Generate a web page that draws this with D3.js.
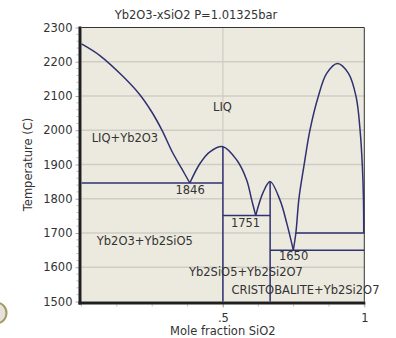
<!DOCTYPE html>
<html><head><meta charset="utf-8">
<script src="https://d3js.org/d3.v7.min.js"></script>
<style>
html,body{margin:0;padding:0;background:#fff;}
svg{display:block;}
text{font-family:"DejaVu Sans",Verdana,sans-serif;fill:#333;}
</style></head>
<body>
<svg id="chart" width="396" height="338"></svg>
<script>
// ---- data ----
const title = "Yb2O3-xSiO2 P=1.01325bar";
const xLabel = "Mole fraction SiO2";
const yLabel = "Temperature (C)";
const yTicks = [1500,1600,1700,1800,1900,2000,2100,2200,2300];
const xTickVals = [0.5, 1];
const xTickLabels = [".5", "1"];
// liquidus branches [x, T]
const liqYb2O3 = [[0,2252],[0.065,2218],[0.148,2156],[0.207,2103],[0.248,2054],[0.284,2001],[0.322,1935],[0.355,1887],[0.383,1846]];
const liqYb2SiO5 = [[0.383,1846],[0.419,1903],[0.454,1937],[0.5,1952],[0.549,1913],[0.584,1855],[0.602,1796],[0.616,1751]];
const liqYb2Si2O7 = [[0.616,1751],[0.643,1820],[0.667,1850],[0.702,1796],[0.726,1728],[0.749,1650]];
const liqGap = [[0.749,1650],[0.758,1700],[0.769,1801],[0.787,1898],[0.808,2001],[0.837,2098],[0.867,2166],[0.905,2195],[0.944,2166],[0.971,2098],[0.985,2001],[0.993,1898],[0.997,1801],[0.998,1700]];
// invariant lines: [x1, x2, T]
const horizLines = [[0,0.5,1846],[0.5,0.667,1751],[0.667,1,1650],[0.758,1,1700]];
// compound lines: [x, Ttop]
const vertLines = [[0.5,1952],[0.667,1850]];
// labels: [text, x, T, anchor]
const regionLabels = [
  ["LIQ", 0.465, 2065, "start"],
  ["LIQ+Yb2O3", 0.036, 1975, "start"],
  ["1846", 0.384, 1825, "middle"],
  ["Yb2O3+Yb2SiO5", 0.054, 1676, "start"],
  ["1751", 0.58, 1727, "middle"],
  ["1650", 0.75, 1630, "middle"],
  ["Yb2SiO5+Yb2Si2O7", 0.38, 1585, "start"],
  ["CRISTOBALITE+Yb2Si2O7", 0.53, 1533, "start"]
];

// ---- layout ----
const svg = d3.select("#chart");
const L = 81.5, R = 364.3, T0 = 27.5, B = 301.5;
const x = d3.scaleLinear().domain([0,1]).range([L,R]);
const y = d3.scaleLinear().domain([1500,2300]).range([B,T0]);
const ink = "#2f3170";

// decorative circle
svg.append("circle").attr("cx",-4).attr("cy",313).attr("r",10.5)
  .attr("fill","#e6e2d8").attr("stroke","#a39a68").attr("stroke-width",2);

// plot background
svg.append("rect").attr("x",L).attr("y",T0).attr("width",R-L).attr("height",B-T0)
  .attr("fill","#eceadf");

// grid
svg.append("g").selectAll("line").data(yTicks.slice(1,-1)).join("line")
  .attr("x1",L).attr("x2",R).attr("y1",d=>y(d)).attr("y2",d=>y(d))
  .attr("stroke","#cfcdc6").attr("stroke-width",1.3);
svg.append("line").attr("x1",x(0.5)).attr("x2",x(0.5)).attr("y1",T0).attr("y2",B)
  .attr("stroke","#cfcdc6").attr("stroke-width",1.3);

// top/right border
svg.append("path").attr("d",`M${L},${T0}H${R}V${B}`).attr("fill","none")
  .attr("stroke","#333").attr("stroke-width",1);

// y axis
const yAxis = d3.axisLeft(y).tickValues(yTicks).tickFormat(d3.format("d")).tickSize(4).tickPadding(3);
const gy = svg.append("g").attr("transform",`translate(${L-2},0)`).call(yAxis);
gy.select(".domain").remove();
gy.selectAll(".tick line").attr("stroke","#aaa");
gy.selectAll(".tick text").attr("font-size","11.5px").attr("fill","#333")
  .attr("font-family","DejaVu Sans, sans-serif");
const yMinor = d3.range(1500,2300,20).filter(v=>v%100!==0);
svg.append("g").selectAll("line").data(yMinor).join("line")
  .attr("x1",L-5).attr("x2",L-3).attr("y1",d=>y(d)).attr("y2",d=>y(d))
  .attr("stroke","#bbb");

// x axis
const xAxis = d3.axisBottom(x).tickValues(xTickVals).tickFormat((d,i)=>xTickLabels[i]).tickSize(4).tickPadding(6);
const gx = svg.append("g").attr("transform",`translate(0,${B+2})`).call(xAxis);
gx.select(".domain").remove();
gx.selectAll(".tick line").attr("stroke","#aaa");
gx.selectAll(".tick text").attr("font-size","11.5px").attr("fill","#333")
  .attr("font-family","DejaVu Sans, sans-serif");
const xMinor = d3.range(0,1.001,0.125);
svg.append("g").selectAll("line").data(xMinor).join("line")
  .attr("x1",d=>x(d)).attr("x2",d=>x(d)).attr("y1",B+3).attr("y2",B+5)
  .attr("stroke","#bbb");

// thick axis lines
svg.append("rect").attr("x",L-3).attr("y",T0-1).attr("width",3).attr("height",B-T0+4).attr("fill","#1f1f1f");
svg.append("rect").attr("x",L-3).attr("y",B).attr("width",R-L+4).attr("height",3).attr("fill","#1f1f1f");

// phase boundaries
const line = d3.line().x(d=>x(d[0])).y(d=>y(d[1])).curve(d3.curveCatmullRom.alpha(0.5));
const g = svg.append("g").attr("fill","none").attr("stroke",ink).attr("stroke-width",1.5);
[liqYb2O3, liqYb2SiO5, liqYb2Si2O7, liqGap].forEach(s=>g.append("path").attr("d",line(s)));
horizLines.forEach(h=>g.append("line").attr("x1",x(h[0])).attr("x2",x(h[1])).attr("y1",y(h[2])).attr("y2",y(h[2])));
vertLines.forEach(v=>g.append("line").attr("x1",x(v[0])).attr("x2",x(v[0])).attr("y1",y(v[1])).attr("y2",B));

// labels
svg.append("g").selectAll("text").data(regionLabels).join("text")
  .attr("x",d=>x(d[1])).attr("y",d=>y(d[2])).attr("text-anchor",d=>d[3])
  .attr("dominant-baseline","middle").attr("font-size","11.5px").text(d=>d[0]);

// titles
svg.append("text").attr("x",196).attr("y",15).attr("text-anchor","middle")
  .attr("dominant-baseline","middle").attr("font-size","11.5px").text(title);
svg.append("text").attr("x",x(0.5)).attr("y",331).attr("text-anchor","middle")
  .attr("dominant-baseline","middle").attr("font-size","11.5px").text(xLabel);
svg.append("text").attr("transform",`translate(28,${(T0+B)/2}) rotate(-90)`)
  .attr("text-anchor","middle").attr("dominant-baseline","middle")
  .attr("font-size","11.5px").text(yLabel);
</script>
</body></html>
